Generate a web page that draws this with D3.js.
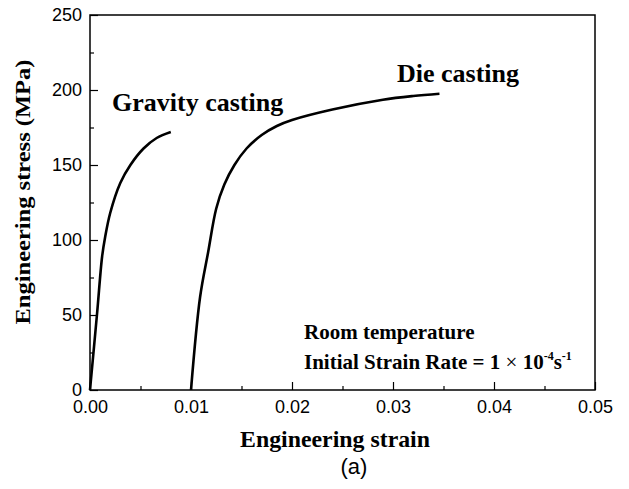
<!DOCTYPE html>
<html><head><meta charset="utf-8">
<script src="https://cdn.jsdelivr.net/npm/d3@7"></script>
<style>body{margin:0;background:#fff}svg{display:block}</style>
</head><body>
<script>
const gravityStrain = [0, 0.0007, 0.0012, 0.0015, 0.002, 0.003, 0.004, 0.0053, 0.0066, 0.0080];
const gravityStress = [0, 51, 89, 102, 118, 138, 150, 161, 168, 172];
const dieStrain = [0.0100, 0.0109, 0.0117, 0.0125, 0.0133, 0.0143, 0.0155, 0.0170, 0.0185, 0.0200, 0.0240, 0.0290, 0.0320, 0.0346];
const dieStress = [0, 62, 92, 121, 137, 150, 161, 170, 176, 180, 187, 193.5, 196, 197.5];
const xTicks = [0, 0.01, 0.02, 0.03, 0.04, 0.05];
const yTicks = [0, 50, 100, 150, 200, 250];

const W = 629, H = 489;
const m = {left: 90, right: 595, top: 15, bottom: 390};
const svg = d3.select("body").append("svg").attr("width", W).attr("height", H);
const x = d3.scaleLinear().domain([0, 0.05]).range([m.left, m.right]);
const y = d3.scaleLinear().domain([0, 250]).range([m.bottom, m.top]);

const serif = "'Liberation Serif','Times New Roman',serif";
const sans = "'Liberation Sans',Arial,sans-serif";

// frame
svg.append("rect").attr("x", m.left).attr("y", m.top).attr("width", m.right - m.left).attr("height", m.bottom - m.top)
  .attr("fill", "none").attr("stroke", "#000").attr("stroke-width", 1.5);

// minor ticks
const xMinor = d3.range(0.005, 0.05, 0.01);
const yMinor = d3.range(25, 250, 50);
svg.append("g").attr("transform", `translate(0,${m.bottom})`)
  .call(d3.axisTop(x).tickValues(xMinor).tickSize(4).tickFormat(""))
  .call(g => g.select(".domain").remove());
svg.append("g").attr("transform", `translate(${m.left},0)`)
  .call(d3.axisRight(y).tickValues(yMinor).tickSize(4).tickFormat(""))
  .call(g => g.select(".domain").remove());

// major ticks inward with labels outside
const xAx = svg.append("g").attr("transform", `translate(0,${m.bottom})`)
  .call(d3.axisBottom(x).tickValues(xTicks).tickSizeInner(-8).tickSizeOuter(0).tickPadding(10).tickFormat(d3.format(".2f")));
xAx.select(".domain").remove();
xAx.selectAll("text").attr("font-family", sans).attr("font-size", 18).attr("fill", "#000");

const yAx = svg.append("g").attr("transform", `translate(${m.left},0)`)
  .call(d3.axisLeft(y).tickValues(yTicks).tickSizeInner(-8).tickSizeOuter(0).tickPadding(8).tickFormat(d3.format("d")));
yAx.select(".domain").remove();
yAx.selectAll("text").attr("font-family", sans).attr("font-size", 18).attr("fill", "#000");
svg.selectAll(".tick line").attr("stroke", "#000").attr("stroke-width", 1.2);

// curves
const line = d3.line().x(d => x(d[0])).y(d => y(d[1])).curve(d3.curveCatmullRom.alpha(0.5));
svg.append("path").datum(gravityStrain.map((s, i) => [s, gravityStress[i]]))
  .attr("d", line).attr("fill", "none").attr("stroke", "#000").attr("stroke-width", 2.6);
svg.append("path").datum(dieStrain.map((s, i) => [s, dieStress[i]]))
  .attr("d", line).attr("fill", "none").attr("stroke", "#000").attr("stroke-width", 2.6);

// annotations
svg.append("text").attr("x", 112).attr("y", 111).attr("font-family", serif).attr("font-weight", "bold")
  .attr("font-size", 26).text("Gravity casting");
svg.append("text").attr("x", 397).attr("y", 82).attr("font-family", serif).attr("font-weight", "bold")
  .attr("font-size", 26).text("Die casting");
svg.append("text").attr("x", 304).attr("y", 339).attr("font-family", serif).attr("font-weight", "bold")
  .attr("font-size", 21).text("Room temperature");
const t2 = svg.append("text").attr("x", 304).attr("y", 369).attr("font-family", serif).attr("font-weight", "bold")
  .attr("font-size", 21);
t2.append("tspan").text("Initial Strain Rate = 1 ");
t2.append("tspan").attr("font-weight", "normal").text("×");
t2.append("tspan").text(" 10");
t2.append("tspan").attr("font-size", 12).attr("dy", -9).text("-4");
t2.append("tspan").attr("dy", 9).text("s");
t2.append("tspan").attr("font-size", 12).attr("dy", -9).text("-1");

// axis titles
svg.append("text").attr("x", 335).attr("y", 447).attr("text-anchor", "middle")
  .attr("font-family", serif).attr("font-weight", "bold").attr("font-size", 23)
  .attr("textLength", 190).attr("lengthAdjust", "spacingAndGlyphs").text("Engineering strain");
svg.append("text").attr("transform", `translate(30,192) rotate(-90)`).attr("text-anchor", "middle")
  .attr("font-family", serif).attr("font-weight", "bold").attr("font-size", 22)
  .attr("textLength", 265).attr("lengthAdjust", "spacingAndGlyphs").text("Engineering stress (MPa)");
svg.append("text").attr("x", 354).attr("y", 474).attr("text-anchor", "middle")
  .attr("font-family", sans).attr("font-size", 22).text("(a)");
</script>
</body></html>
